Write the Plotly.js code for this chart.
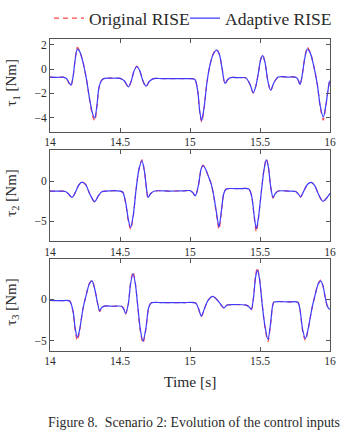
<!DOCTYPE html>
<html>
<head>
<meta charset="utf-8">
<script src="https://cdn.plot.ly/plotly-3.0.1.min.js"></script>
<style>
  html, body { margin: 0; padding: 0; background: #fff; }
  #chart { width: 340px; height: 435px; }
</style>
</head>
<body>
<div id="chart"></div>
<script>
// Joint 1 torque
const t1 = [14.00, 14.05, 14.09, 14.115, 14.135, 14.15, 14.165, 14.18, 14.195, 14.21, 14.235, 14.26, 14.285, 14.305, 14.32, 14.335, 14.35, 14.37, 14.39, 14.45, 14.50, 14.53, 14.56, 14.58, 14.60, 14.62, 14.64, 14.665, 14.686, 14.71, 14.74, 14.80, 14.90, 15.00, 15.035, 15.055, 15.07, 15.083, 15.10, 15.12, 15.14, 15.165, 15.19, 15.21, 15.23, 15.25, 15.27, 15.29, 15.35, 15.40, 15.43, 15.452, 15.47, 15.49, 15.505, 15.519, 15.535, 15.555, 15.576, 15.60, 15.63, 15.70, 15.76, 15.775, 15.786, 15.80, 15.82, 15.838, 15.86, 15.885, 15.91, 15.93, 15.952, 15.97, 15.985, 15.995, 16.00];
const tau1Adaptive = [-0.65, -0.68, -0.66, -0.75, -1.1, -1.32, -0.6, 0.8, 1.65, 1.5, 0.6, -0.8, -2.6, -3.7, -4.03, -3.0, -1.5, -0.9, -0.76, -0.75, -0.76, -0.95, -1.46, -1.0, -0.15, 0.22, -0.1, -1.0, -1.4, -1.0, -0.78, -0.78, -0.78, -0.78, -0.85, -1.8, -3.5, -4.24, -3.2, -1.2, 0.2, 1.2, 1.57, 1.2, 0.0, -1.18, -0.85, -0.7, -0.7, -0.72, -1.3, -1.94, -1.4, -0.2, 0.8, 1.11, 0.6, -0.9, -1.73, -1.1, -0.65, -0.65, -0.68, -0.95, -1.27, -0.6, 0.9, 1.65, 1.3, 0.2, -1.3, -3.0, -3.97, -3.0, -1.8, -1.08, -0.95];
const tau1Original = [-0.65, -0.68, -0.66, -0.75, -1.15, -1.38, -0.6, 0.85, 1.8, 1.55, 0.6, -0.8, -2.7, -3.9, -4.25, -3.1, -1.5, -0.9, -0.76, -0.75, -0.76, -0.95, -1.5, -1.0, -0.15, 0.25, -0.1, -1.0, -1.45, -1.0, -0.78, -0.78, -0.78, -0.78, -0.85, -1.85, -3.6, -4.35, -3.3, -1.2, 0.2, 1.25, 1.62, 1.2, 0.0, -1.22, -0.85, -0.7, -0.7, -0.72, -1.3, -1.98, -1.4, -0.2, 0.8, 1.15, 0.6, -0.9, -1.78, -1.1, -0.65, -0.65, -0.68, -0.95, -1.32, -0.6, 0.95, 1.8, 1.35, 0.2, -1.3, -3.1, -4.2, -3.1, -1.8, -1.08, -0.95];

// Joint 2 torque
const t2 = [14.00, 14.06, 14.11, 14.135, 14.157, 14.18, 14.205, 14.229, 14.255, 14.285, 14.319, 14.345, 14.37, 14.40, 14.50, 14.52, 14.54, 14.56, 14.576, 14.595, 14.615, 14.635, 14.657, 14.675, 14.69, 14.70, 14.72, 14.748, 14.85, 14.95, 15.00, 15.02, 15.038, 15.06, 15.08, 15.093, 15.11, 15.13, 15.152, 15.17, 15.19, 15.207, 15.225, 15.24, 15.255, 15.27, 15.35, 15.42, 15.44, 15.46, 15.474, 15.49, 15.51, 15.53, 15.545, 15.56, 15.575, 15.593, 15.61, 15.63, 15.70, 15.755, 15.775, 15.79, 15.81, 15.84, 15.866, 15.89, 15.92, 15.95, 15.975, 16.00];
const tau2Adaptive = [-1.2, -1.22, -1.25, -1.6, -2.0, -1.4, -0.45, -0.08, -0.4, -1.6, -2.53, -1.8, -1.3, -1.2, -1.2, -1.35, -2.6, -4.8, -5.78, -4.2, -1.0, 1.5, 2.58, 1.2, -1.0, -2.0, -1.5, -1.2, -1.2, -1.18, -1.15, -1.4, -1.8, -0.5, 1.6, 2.0, 1.6, 0.7, -0.37, -1.8, -4.0, -5.7, -3.6, -1.6, -1.0, -0.9, -0.9, -0.95, -1.8, -4.5, -5.9, -4.4, -1.2, 1.6, 2.7, 1.8, -0.5, -2.0, -1.5, -1.2, -1.2, -1.25, -1.6, -1.92, -1.3, -0.35, -0.12, -0.5, -1.7, -2.5, -2.1, -1.5];
const tau2Original = [-1.2, -1.22, -1.25, -1.62, -2.05, -1.4, -0.45, -0.06, -0.4, -1.6, -2.58, -1.8, -1.3, -1.2, -1.2, -1.35, -2.7, -5.0, -6.0, -4.3, -1.0, 1.55, 2.7, 1.2, -1.0, -2.1, -1.5, -1.2, -1.2, -1.18, -1.15, -1.4, -1.85, -0.5, 1.65, 2.05, 1.6, 0.7, -0.37, -1.9, -4.2, -6.0, -3.7, -1.6, -1.0, -0.9, -0.9, -0.95, -1.85, -4.7, -6.3, -4.5, -1.2, 1.7, 2.85, 1.8, -0.5, -2.1, -1.5, -1.2, -1.2, -1.25, -1.62, -1.96, -1.3, -0.35, -0.1, -0.5, -1.7, -2.55, -2.1, -1.5];

// Joint 3 torque
const t3 = [14.00, 14.08, 14.14, 14.165, 14.18, 14.195, 14.21, 14.235, 14.26, 14.28, 14.30, 14.32, 14.34, 14.355, 14.37, 14.39, 14.45, 14.51, 14.525, 14.54, 14.56, 14.575, 14.593, 14.61, 14.625, 14.645, 14.664, 14.685, 14.705, 14.724, 14.80, 14.95, 15.04, 15.06, 15.081, 15.10, 15.13, 15.164, 15.20, 15.243, 15.265, 15.30, 15.40, 15.42, 15.438, 15.455, 15.468, 15.481, 15.495, 15.515, 15.535, 15.557, 15.575, 15.59, 15.60, 15.70, 15.77, 15.785, 15.805, 15.824, 15.845, 15.87, 15.895, 15.915, 15.934, 15.95, 15.965, 15.98, 15.99, 16.00];
const tau3Adaptive = [-0.15, -0.18, -0.22, -1.5, -3.5, -4.6, -3.8, -1.2, 0.6, 1.8, 2.2, 1.2, -0.5, -1.42, -1.0, -0.83, -0.85, -0.85, -1.1, -1.73, -0.5, 1.8, 3.1, 1.8, -0.5, -3.6, -5.07, -3.5, -1.0, -0.43, -0.42, -0.42, -0.45, -1.1, -2.04, -1.3, -0.1, 0.35, -0.2, -1.06, -0.7, -0.65, -0.72, -0.9, -1.22, 0.4, 2.6, 3.5, 2.6, -0.5, -3.2, -4.88, -3.0, -0.8, -0.35, -0.33, -0.37, -1.2, -3.7, -4.76, -3.5, -1.2, 0.6, 1.8, 2.2, 1.6, 0.3, -0.8, -1.1, -1.22];
const tau3Original = [-0.15, -0.18, -0.22, -1.6, -3.8, -5.0, -4.0, -1.2, 0.6, 1.85, 2.3, 1.2, -0.5, -1.5, -1.0, -0.83, -0.85, -0.85, -1.1, -1.78, -0.5, 1.9, 3.3, 1.9, -0.5, -3.8, -5.3, -3.6, -1.0, -0.43, -0.42, -0.42, -0.45, -1.1, -2.1, -1.3, -0.1, 0.38, -0.2, -1.1, -0.7, -0.65, -0.72, -0.9, -1.28, 0.4, 2.8, 3.8, 2.7, -0.5, -3.4, -5.1, -3.1, -0.8, -0.35, -0.33, -0.37, -1.2, -3.9, -5.0, -3.6, -1.2, 0.6, 1.85, 2.3, 1.6, 0.3, -0.8, -1.1, -1.22];

const xTicks = [14, 14.5, 15, 15.5, 16];
const xTickText = ['14', '14.5', '15', '15.5', '16'];
const yTicks1 = [-4, -2, 0, 2];
const yTicks23 = [-5, 0];
const seriesNames = ['Original RISE', 'Adaptive RISE'];

const FONT = "'Liberation Serif', 'Times New Roman', serif";
const TEXT = '#2a2a2a';
const RED = 'rgb(255,70,70)';
const BLUE = 'rgb(60,60,255)';
const FRAME = '#555';

function pair(t, orig, adapt, idx) {
  const xa = idx === 1 ? 'x' : 'x' + idx;
  const ya = idx === 1 ? 'y' : 'y' + idx;
  return [
    { x: t, y: orig, xaxis: xa, yaxis: ya, type: 'scatter', mode: 'lines',
      name: seriesNames[0], showlegend: idx === 1, legend: 'legend',
      line: { color: RED, width: 1.2, dash: '5px,4px', shape: 'spline', smoothing: 0.8 } },
    { x: t, y: adapt, xaxis: xa, yaxis: ya, type: 'scatter', mode: 'lines',
      name: seriesNames[1], showlegend: idx === 1, legend: 'legend2',
      line: { color: BLUE, width: 1.2, shape: 'spline', smoothing: 0.8 } }
  ];
}

const data = [].concat(
  pair(t1, tau1Original, tau1Adaptive, 1),
  pair(t2, tau2Original, tau2Adaptive, 2),
  pair(t3, tau3Original, tau3Adaptive, 3)
);

function xAxis(anchor) {
  return {
    anchor: anchor, domain: [0, 1], range: [14, 16],
    tickvals: xTicks, ticktext: xTickText,
    ticks: 'inside', ticklen: 4, tickcolor: FRAME, tickwidth: 1,
    showline: true, linecolor: FRAME, linewidth: 1, mirror: 'allticks',
    showgrid: false, zeroline: false,
    tickfont: { family: FONT, size: 11.5, color: TEXT }
  };
}
function yAxis(anchor, domain, range, ticks) {
  return {
    anchor: anchor, domain: domain, range: range,
    tickvals: ticks,
    ticks: 'inside', ticklen: 4, tickcolor: FRAME, tickwidth: 1,
    showline: true, linecolor: FRAME, linewidth: 1, mirror: 'allticks',
    showgrid: false, zeroline: false,
    tickfont: { family: FONT, size: 11.5, color: TEXT }
  };
}

const H = 435, L = 50, W = 280;
const py = p => 1 - p / H;
const px = p => (p - L) / W;

function yTitle(text, top, bottom) {
  return {
    xref: 'paper', yref: 'paper', x: px(12), y: py((top + bottom) / 2 - 3),
    xanchor: 'center', yanchor: 'middle', textangle: -90, showarrow: false,
    text: text, font: { family: FONT, size: 15, color: TEXT }
  };
}

function legendBox(leftPx) {
  return {
    orientation: 'h', x: px(leftPx), xanchor: 'left', y: py(10.5), yanchor: 'middle',
    font: { family: FONT, size: 17.5, color: TEXT },
    bgcolor: 'rgba(0,0,0,0)', borderwidth: 0, itemwidth: 30
  };
}

const layout = {
  width: 340, height: 435,
  margin: { l: L, r: 340 - L - W, t: 0, b: 0 },
  paper_bgcolor: '#fff', plot_bgcolor: '#fff',
  showlegend: true,
  legend: legendBox(49),
  legend2: legendBox(185),
  xaxis: xAxis('y'),
  yaxis: yAxis('x', [py(126), py(32)], [-5.15, 2.45], yTicks1),
  xaxis2: xAxis('y2'),
  yaxis2: yAxis('x2', [py(237.3), py(145)], [-7.45, 3.9], yTicks23),
  xaxis3: xAxis('y3'),
  yaxis3: yAxis('x3', [py(349), py(255.7)], [-6.2, 4.85], yTicks23),
  annotations: [
    yTitle('τ<sub>1</sub> [Nm]', 32, 126),
    yTitle('τ<sub>2</sub> [Nm]', 145, 237.3),
    yTitle('τ<sub>3</sub> [Nm]', 255.7, 349),
    { xref: 'paper', yref: 'paper', x: 0.5, y: py(381), xanchor: 'center', yanchor: 'middle',
      showarrow: false, text: 'Time [s]', font: { family: FONT, size: 15.5, color: TEXT } },
    { xref: 'paper', yref: 'paper', x: px(193.5), y: py(422), xanchor: 'center', yanchor: 'middle',
      showarrow: false, text: 'Figure 8.  Scenario 2: Evolution of the control inputs',
      font: { family: FONT, size: 13.8, color: TEXT } }
  ]
};

Plotly.newPlot('chart', data, layout, { staticPlot: true, displayModeBar: false });
</script>
</body>
</html>
